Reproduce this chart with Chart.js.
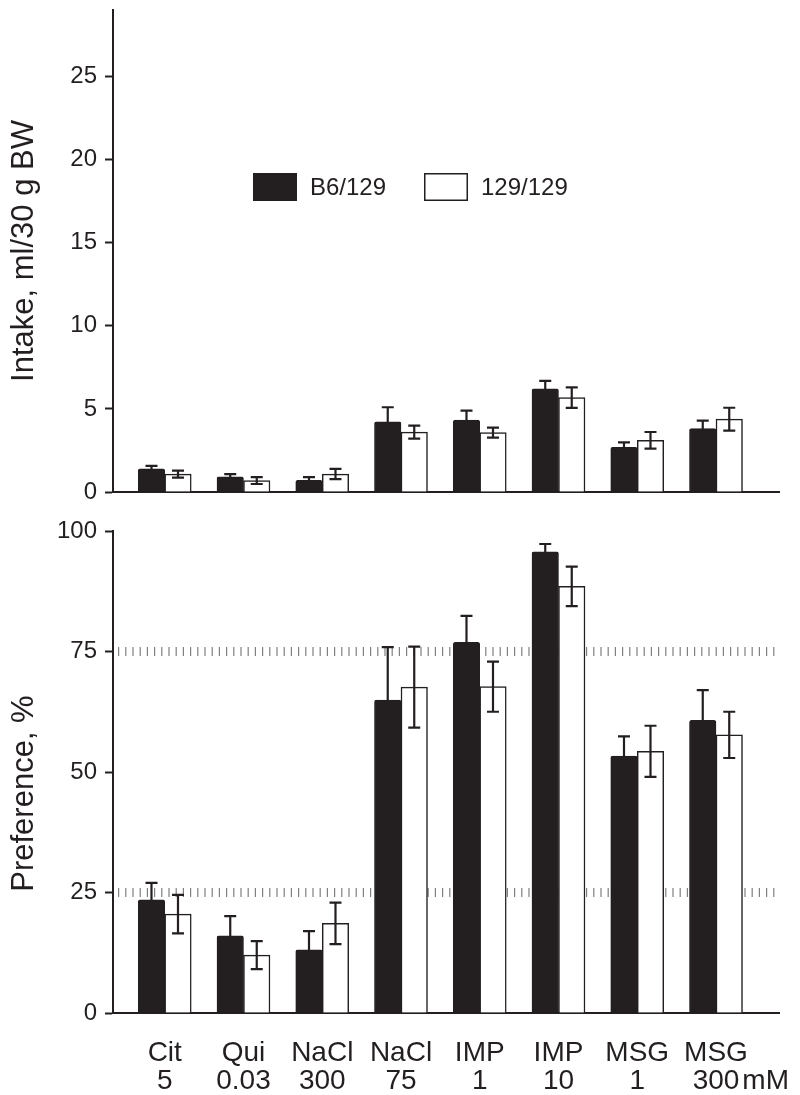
<!DOCTYPE html>
<html>
<head>
<meta charset="utf-8">
<script src="https://cdn.jsdelivr.net/npm/chart.js@4.4.1/dist/chart.umd.min.js"></script>
<style>
  html, body { margin: 0; padding: 0; background: #fff; }
  #wrap { position: relative; width: 800px; height: 1095px; }
  #intakeChart { position: absolute; left: 0; top: 0; }
  #prefChart { position: absolute; left: 0; top: 500px; }
</style>
</head>
<body>
<div id="wrap">
  <canvas id="intakeChart" width="800" height="500"></canvas>
  <canvas id="prefChart" width="800" height="595"></canvas>
</div>
<script>
const categories = ['Cit', 'Qui', 'NaCl', 'NaCl', 'IMP', 'IMP', 'MSG', 'MSG'];
const concentrations = ['5', '0.03', '300', '75', '1', '10', '1', '300'];
const unitLabel = 'mM';
const strainLabels = ['B6/129', '129/129'];

// Intake, ml/30 g BW (mean +/- SEM)
const intakeB6 = [1.4, 0.92, 0.7, 4.22, 4.32, 6.2, 2.69, 3.81];
const intakeB6Err = [0.17, 0.16, 0.2, 0.88, 0.58, 0.49, 0.3, 0.49];
const intake129 = [1.08, 0.69, 1.08, 3.6, 3.57, 5.68, 3.11, 4.38];
const intake129Err = [0.21, 0.21, 0.31, 0.39, 0.3, 0.62, 0.5, 0.69];

// Preference, % (mean +/- SEM)
const prefB6 = [23.5, 16.0, 13.1, 64.9, 76.9, 95.7, 53.3, 60.7];
const prefB6Err = [3.5, 4.1, 3.9, 11.0, 5.5, 1.6, 4.1, 6.3];
const pref129 = [20.5, 12.0, 18.6, 67.6, 67.7, 88.5, 54.3, 57.7];
const pref129Err = [4.0, 2.9, 4.3, 8.4, 5.2, 4.1, 5.3, 4.8];

const intakeTicks = [0, 5, 10, 15, 20, 25];
const prefTicks = [0, 25, 50, 75, 100];
const prefRefLines = [25, 75];

const INK = '#231f20';
const FONT = "'Liberation Sans', Arial, Helvetica, sans-serif";

function toPoints(values) {
    return values.map((v, i) => ({ x: i, y: v }));
}

function makeDatasets(b6, b6Err, w129, w129Err) {
    return [
        {
            label: strainLabels[0],
            data: toPoints(b6),
            errors: b6Err,
            backgroundColor: INK,
            borderColor: INK,
            borderWidth: 1,
            borderRadius: 2,
            borderSkipped: 'start'
        },
        {
            label: strainLabels[1],
            data: toPoints(w129),
            errors: w129Err,
            backgroundColor: '#ffffff',
            borderColor: INK,
            borderWidth: 1.5,
            borderSkipped: 'start'
        }
    ];
}

// Error bars: stem + caps, drawn from the y scale
const errorBarPlugin = {
    id: 'errorBars',
    afterDatasetsDraw(chart) {
        const ctx = chart.ctx;
        const yScale = chart.scales.y;
        ctx.save();
        ctx.strokeStyle = INK;
        ctx.lineWidth = 2.2;
        chart.data.datasets.forEach((ds, di) => {
            const meta = chart.getDatasetMeta(di);
            meta.data.forEach((bar, i) => {
                const v = ds.data[i].y;
                const e = ds.errors[i];
                const yHi = yScale.getPixelForValue(v + e);
                const yLo = yScale.getPixelForValue(v - e);
                const cap = 6;
                ctx.beginPath();
                ctx.moveTo(bar.x, yHi); ctx.lineTo(bar.x, yLo);
                ctx.moveTo(bar.x - cap, yHi); ctx.lineTo(bar.x + cap, yHi);
                ctx.moveTo(bar.x - cap, yLo); ctx.lineTo(bar.x + cap, yLo);
                ctx.stroke();
            });
        });
        ctx.restore();
    }
};

// Dotted 25% / 75% guide lines, behind the bars
const refLinePlugin = {
    id: 'refLines',
    beforeDatasetsDraw(chart, args, opts) {
        if (!opts.values) return;
        const { ctx, chartArea } = chart;
        const yScale = chart.scales.y;
        ctx.save();
        ctx.strokeStyle = '#808080';
        ctx.lineWidth = 9;
        ctx.setLineDash([1.2, 6]);
        opts.values.forEach(v => {
            const y = yScale.getPixelForValue(v);
            ctx.beginPath();
            ctx.moveTo(chartArea.left + 5, y);
            ctx.lineTo(chartArea.right, y);
            ctx.stroke();
        });
        ctx.restore();
    }
};

// Legend drawn inside the plot area
const boxLegendPlugin = {
    id: 'boxLegend',
    afterDraw(chart, args, opts) {
        if (!opts.display) return;
        const ctx = chart.ctx;
        ctx.save();
        ctx.font = '24px ' + FONT;
        ctx.textBaseline = 'middle';
        opts.items.forEach((item, i) => {
            const ds = chart.data.datasets[i];
            const bx = item.x, by = opts.y;
            ctx.fillStyle = ds.backgroundColor;
            ctx.fillRect(bx, by, opts.boxWidth, opts.boxHeight);
            ctx.strokeStyle = INK;
            ctx.lineWidth = 1.5;
            ctx.strokeRect(bx + 0.75, by + 0.75, opts.boxWidth - 1.5, opts.boxHeight - 1.5);
            ctx.fillStyle = INK;
            ctx.fillText(ds.label, bx + opts.boxWidth + 13, by + opts.boxHeight / 2 + 1);
        });
        ctx.restore();
    }
};

// "mM" unit after the last concentration label
const unitPlugin = {
    id: 'unitLabel',
    afterDraw(chart, args, opts) {
        if (!opts.text) return;
        const ctx = chart.ctx;
        const xScale = chart.scales.x;
        const last = concentrations.length - 1;
        ctx.save();
        ctx.font = '28px ' + FONT;
        ctx.fillStyle = INK;
        ctx.textBaseline = 'alphabetic';
        const half = ctx.measureText(concentrations[last]).width / 2;
        ctx.fillText(opts.text, xScale.getPixelForValue(last) + half + 3, xScale.top + opts.baseline);
        ctx.restore();
    }
};

function baseOptions(cfg) {
    return {
        responsive: false,
        animation: false,
        layout: { padding: { top: cfg.padTop, right: 21, bottom: 0, left: 0 } },
        datasets: { bar: { barThickness: 26.5 } },
        plugins: {
            legend: { display: false },
            tooltip: { enabled: false },
            refLines: { values: cfg.refLines },
            boxLegend: cfg.legend,
            unitLabel: { text: cfg.unit, baseline: 76 }
        },
        scales: {
            x: {
                type: 'linear',
                offset: false,
                min: -0.657,
                max: 7.8,
                afterFit: scale => { scale.height = cfg.xHeight; },
                afterBuildTicks: scale => {
                    scale.ticks = categories.map((c, i) => ({ value: i }));
                },
                grid: { display: false, offset: false },
                border: { display: true, color: INK, width: 2 },
                ticks: {
                    display: cfg.showLabels,
                    autoSkip: false,
                    maxRotation: 0,
                    padding: 19,
                    color: INK,
                    font: { family: FONT, size: 28, lineHeight: 0.98 },
                    callback: v => [categories[v], concentrations[v]]
                }
            },
            y: {
                min: 0,
                max: cfg.yMax,
                afterFit: scale => {
                    scale.width = 113;
                    // keep the plot edges where the original has them
                    scale.paddingTop = 0;
                    scale.paddingBottom = 0;
                },
                afterBuildTicks: scale => {
                    scale.ticks = cfg.yTicks.map(v => ({ value: v }));
                },
                grid: {
                    drawOnChartArea: false,
                    drawTicks: true,
                    tickLength: 8,
                    tickWidth: 2,
                    tickColor: INK
                },
                border: { display: true, color: INK, width: 2 },
                ticks: {
                    padding: 8,
                    color: INK,
                    font: { family: FONT, size: 24 }
                },
                title: {
                    display: true,
                    text: cfg.yTitle,
                    color: INK,
                    font: { family: FONT, size: 31 },
                    padding: { top: 6, bottom: 0 }
                }
            }
        }
    };
}

new Chart(document.getElementById('intakeChart'), {
    type: 'bar',
    data: { datasets: makeDatasets(intakeB6, intakeB6Err, intake129, intake129Err) },
    options: baseOptions({
        padTop: 10,
        xHeight: 8,
        yMax: 29,
        yTicks: intakeTicks,
        yTitle: 'Intake, ml/30 g BW',
        showLabels: false,
        refLines: null,
        unit: null,
        legend: {
            display: true,
            y: 173,
            boxWidth: 44,
            boxHeight: 28,
            items: [{ x: 253 }, { x: 424 }]
        }
    }),
    plugins: [refLinePlugin, errorBarPlugin, boxLegendPlugin, unitPlugin]
});

new Chart(document.getElementById('prefChart'), {
    type: 'bar',
    data: { datasets: makeDatasets(prefB6, prefB6Err, pref129, pref129Err) },
    options: baseOptions({
        padTop: 31,
        xHeight: 82,
        yMax: 100,
        yTicks: prefTicks,
        // trailing spaces nudge the centred title down to match the original
        yTitle: 'Preference, %     ',
        showLabels: true,
        refLines: prefRefLines,
        unit: unitLabel,
        legend: { display: false }
    }),
    plugins: [refLinePlugin, errorBarPlugin, boxLegendPlugin, unitPlugin]
});
</script>
</body>
</html>
